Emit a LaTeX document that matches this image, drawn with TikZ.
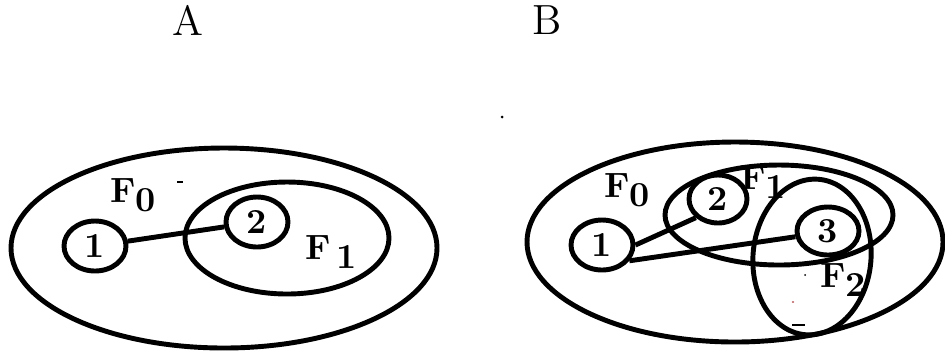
\documentclass[tikz,border=0pt]{standalone}
\usetikzlibrary{shapes.geometric}

\newcommand{\fidx}[2][]{F#1\raisebox{-0.55ex}{#2}}

\tikzset{
    elem/.style={draw, ellipse, line width=1.4pt, inner sep=0pt,
        minimum width=0.62cm, minimum height=0.50cm, font=\bfseries},
    lbl/.style={font=\bfseries, inner sep=0pt},
    ring/.style={line width=1.4pt}
}

\begin{document}
\begin{tikzpicture}
    \useasboundingbox (0,0) rectangle (9.45,3.51);

    % 标题
    \node[font=\large] (ta) at (1.88, 3.31) {A};
    \node[font=\large] (tb) at (5.47, 3.31) {B};

    % 图 A
    \draw[ring] (2.24, 1.03) ellipse (2.13 and 1.00);
    \draw[ring] (2.87, 1.13) ellipse (1.02 and 0.56);
    \node[elem] (a1) at (0.95, 1.05) {1};
    \node[elem] (a2) at (2.57, 1.29) {2};
    \draw[ring] (a1) -- (a2);
    \node[lbl] (af0) at (1.33, 1.56) {\fidx{0}};
    \node[lbl] (af1) at (3.31, 0.99) {\fidx[\,]{1}};
    \draw[line width=0.8pt] (1.77, 1.69) -- (1.83, 1.69);

    % 图 B
    \fill (5.02, 2.34) circle (0.015);
    \draw[ring] (7.35, 1.09) ellipse (2.08 and 1.00);
    \draw[ring] (7.79, 1.36) ellipse (1.14 and 0.50);
    \draw[ring, rotate around={-5:(8.12, 0.94)}] (8.12, 0.94) ellipse (0.59 and 0.78);
    \node[elem] (b1) at (6.02, 1.06) {1};
    \node[elem, minimum width=0.58cm, minimum height=0.48cm] (b2) at (7.18, 1.52) {2};
    \node[elem, minimum height=0.48cm] (b3) at (8.28, 1.20) {3};
    \draw[ring] (b1.east) -- (b2.south west);
    \draw[ring] (b1.-30) -- (b3.190);
    \node[lbl] (bf0) at (6.27, 1.61) {\fidx{0}};
    \node[lbl] (bf1) at (7.63, 1.69) {\fidx{1}};
    \node[lbl] (bf2) at (8.43, 0.71) {\fidx{2}};
    \fill (8.05, 0.76) circle (0.01);
    \fill[red!70!black] (7.93, 0.49) circle (0.008);
    \draw[line width=0.8pt] (7.92, 0.26) -- (8.05, 0.26);
\end{tikzpicture}
\end{document}
